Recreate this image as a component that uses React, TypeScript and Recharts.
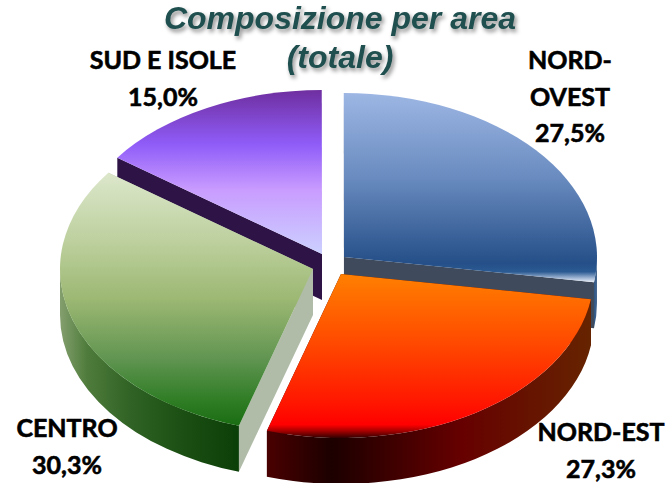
import React from 'react';
import { PieChart, Pie, Cell } from 'recharts';

// Data, in paint order (back slice first)
const categories = ['SUD E ISOLE', 'NORD-OVEST', 'NORD-EST', 'CENTRO'];
const shares = [15.0, 27.5, 27.3, 30.3];
const labelLines = [['SUD E ISOLE'], ['NORD-', 'OVEST'], ['NORD-EST'], ['CENTRO']];
const titleLines = ['Composizione per area', '(totale)'];

const tableData = categories.map((name, i) => ({ name, value: shares[i] }));

// Styling
const W = 671;
const H = 483;
const CX = 333;
const CY = 265;
const RX = 253;
const SQUASH = 0.648;
const DEPTH = 46;
const explode = [
  { dx: -11, dy: -11 },
  { dx: 11, dy: -8 },
  { dx: 8, dy: 9 },
  { dx: -20, dy: 4 },
];
const cutFace = ['#2e1446', '#3f4a5c', '#4a0000', '#b0bca8'];
const labelPos = [
  { x: 163, y: 69 },
  { x: 570, y: 69 },
  { x: 601, y: 441 },
  { x: 67, y: 437 },
];

const topStops: [number, string][][] = [
  [[0, '#6f2fa0'], [0.33, '#8f5cf8'], [0.61, '#c99cff'], [1, '#cbd0ff']],
  [[0, '#9db6e4'], [0.44, '#6a8cc0'], [0.9, '#254f88'], [0.945, '#2b5a92'], [0.98, '#a8bcd8'], [1, '#e8eef6']],
  [[0, '#ff8000'], [0.43, '#ff4800'], [0.8, '#ff1400'], [0.92, '#ff0000'], [0.96, '#a00000'], [1, '#300000']],
  [[0, '#dce7cb'], [0.27, '#bdd09e'], [0.5, '#9cb873'], [0.74, '#5f9450'], [0.9, '#2f7d25'], [1, '#1a6d12']],
];
const wallStops: [number, string][][] = [
  [[0, '#2e1446'], [1, '#2e1446']],
  [[0, '#2f5480'], [0.5, '#3a5f8c'], [1, '#4a6a90']],
  [[0, '#4a0000'], [0.2, '#1c0000'], [0.6, '#660000'], [1, '#662400']],
  [[0, '#849f6e'], [0.15, '#4f7c3c'], [0.4, '#2f6224'], [0.7, '#1a4e12'], [1, '#0b3f08']],
];

const rad = (d: number) => (d * Math.PI) / 180;

const SliceShape = (props: any) => {
  const { cx, cy, outerRadius, startAngle, endAngle, index } = props;
  const i = index ?? categories.indexOf(props.name);
  const ox = cx + explode[i].dx;
  const oy = cy + explode[i].dy;
  const rx = outerRadius;
  const ry = outerRadius * SQUASH;
  const pt = (a: number) => [ox + rx * Math.cos(rad(a)), oy - ry * Math.sin(rad(a))];
  const [sx, sy] = pt(startAngle);
  const [ex, ey] = pt(endAngle);
  const large = Math.abs(startAngle - endAngle) > 180 ? 1 : 0;
  const top = `M${ox},${oy} L${sx},${sy} A${rx},${ry} 0 ${large} 1 ${ex},${ey} Z`;
  const face = (x: number, y: number) =>
    `M${ox},${oy} L${x},${y} L${x},${y + DEPTH} L${ox},${oy + DEPTH} Z`;
  // the outer wall only shows on the front half of the ellipse
  const wa = Math.min(startAngle, 0);
  const wb = Math.max(endAngle, -180);
  let wall = null;
  if (wa > wb) {
    const [ax, ay] = pt(wa);
    const [bx, by] = pt(wb);
    wall =
      `M${ax},${ay} A${rx},${ry} 0 0 1 ${bx},${by} L${bx},${by + DEPTH} ` +
      `A${rx},${ry} 0 0 0 ${ax},${ay + DEPTH} Z`;
  }
  return (
    <g>
      <path d={face(sx, sy)} fill={cutFace[i]} />
      <path d={face(ex, ey)} fill={cutFace[i]} />
      {wall && <path d={wall} fill={`url(#wall${i})`} />}
      <path d={top} fill={`url(#top${i})`} />
    </g>
  );
};

const SliceLabel = (props: any) => {
  const i = props.index;
  const p = labelPos[i];
  const lines = [...labelLines[i], `${shares[i].toFixed(1).replace('.', ',')}%`];
  return (
    <text
      x={p.x}
      y={p.y}
      textAnchor="middle"
      fontFamily="Lato, sans-serif"
      fontWeight={700}
      fontSize={25}
      fill="#000"
      stroke="#000"
      strokeWidth={0.6}
    >
      {lines.map((l, k) => (
        <tspan key={k} x={p.x} dy={k === 0 ? 0 : 36.5}>
          {l}
        </tspan>
      ))}
    </text>
  );
};

export default function App() {
  return (
    <div style={{ position: 'absolute', left: 0, top: 0, width: W, height: H, background: '#fff' }}>
      <PieChart width={W} height={H} margin={{ top: 0, right: 0, bottom: 0, left: 0 }}>
        <defs>
          {topStops.map((stops, i) => (
            <linearGradient key={i} id={`top${i}`} x1="0" y1="0" x2="0" y2="1">
              {stops.map(([o, c]) => (
                <stop key={o} offset={o} stopColor={c} />
              ))}
            </linearGradient>
          ))}
          {wallStops.map((stops, i) => (
            <linearGradient key={i} id={`wall${i}`} x1="0" y1="0" x2="1" y2="0">
              {stops.map(([o, c]) => (
                <stop key={o} offset={o} stopColor={c} />
              ))}
            </linearGradient>
          ))}
        </defs>
        <Pie
          data={tableData}
          dataKey="value"
          nameKey="name"
          cx={CX}
          cy={CY}
          innerRadius={0}
          outerRadius={RX}
          startAngle={144}
          endAngle={-216}
          paddingAngle={0}
          stroke="none"
          isAnimationActive={false}
          shape={SliceShape}
          label={SliceLabel}
          labelLine={false}
        >
          {tableData.map((d) => (
            <Cell key={d.name} />
          ))}
        </Pie>
        <text
          textAnchor="middle"
          fontFamily="'Liberation Sans', Arial, sans-serif"
          fontWeight={700}
          fontStyle="italic"
          fontSize={32}
          fill="#1f4f4f"
          style={{ filter: 'drop-shadow(2px 3px 2px rgba(0,0,0,0.45))' }}
        >
          {titleLines.map((l, k) => (
            <tspan key={k} x={340} y={k === 0 ? 29 : 68}>
              {l}
            </tspan>
          ))}
        </text>
      </PieChart>
    </div>
  );
}
